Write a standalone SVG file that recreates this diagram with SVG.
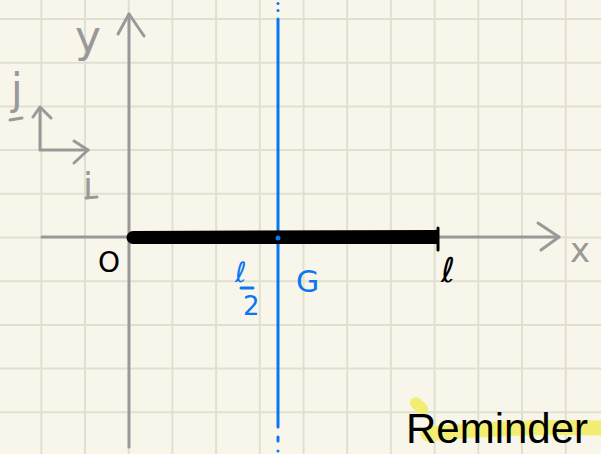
<svg xmlns="http://www.w3.org/2000/svg" width="601" height="454" viewBox="0 0 601 454">
<defs>
<style>
.grid{stroke:#e1dfd1;stroke-width:2;fill:none}
.axis{stroke:#999999;stroke-width:3;fill:none;stroke-linecap:round;stroke-linejoin:round}
.gtext{fill:#999999;font-family:"DejaVu Sans",sans-serif}
.btext{fill:#000000;font-family:"DejaVu Sans",sans-serif}
.bluet{fill:#0a77f2;font-family:"DejaVu Sans",sans-serif}
.blue{stroke:#0a77f2;stroke-width:3;fill:none;stroke-linecap:round}
</style>
</defs>
<rect width="601" height="454" fill="#f8f6ea"/>
<g id="grid" class="grid">
<path d="M41.3 0V454M85 0V454M128.7 0V454M172.4 0V454M216.1 0V454M259.8 0V454M303.5 0V454M347.2 0V454M390.9 0V454M434.6 0V454M478.3 0V454M522 0V454M565.7 0V454"/>
<path d="M0 19H601M0 62.7H601M0 106.4H601M0 150.1H601M0 193.8H601M0 237.5H601M0 281.2H601M0 324.9H601M0 368.6H601M0 412.3H601"/>
</g>
<g id="highlight">
<path d="M416 403 L422 409" stroke="#f3ee72" stroke-width="12" stroke-linecap="round" fill="none"/>
<path d="M428 434 Q500 426 601 428" stroke="#f3ee72" stroke-width="15" stroke-linecap="round" fill="none"/>
</g>
<g id="connectors">
<g id="y-axis" class="axis">
<path d="M129 447V14"/>
<path d="M118 34L129 14L144 36"/>
</g>
<g id="x-axis" class="axis">
<path d="M42 237H559"/>
<path d="M538 223L559 237L541 250"/>
</g>
<g id="basis" class="axis">
<path d="M40 109V150H88"/>
<path d="M33 117L40 107L51 118"/>
<path d="M74 141L88 150L74 163"/>
</g>
<g id="g-line">
<path class="blue" d="M278 19V427"/>
<circle cx="278" cy="3.5" r="1.5" fill="#0a77f2"/>
<circle cx="278" cy="10.5" r="1.5" fill="#0a77f2"/>
<path class="blue" d="M278 437V441"/>
<circle cx="278" cy="451" r="1.5" fill="#0a77f2"/>
</g>
</g>
<g id="rod">
<path d="M133 231 L437 230 L437 244 L133 244 A6.5 6.5 0 0 1 133 231Z" fill="#000"/>
<path d="M438 228V250" stroke="#000" stroke-width="3" stroke-linecap="round"/>
<circle cx="278" cy="238" r="2.5" fill="#0a77f2"/>
</g>
<g id="labels">
<text class="gtext" x="75" y="52" font-size="44">y</text>
<text class="gtext" x="570" y="262" font-size="34">x</text>
<text class="gtext" x="11" y="104" font-size="42">j</text>
<path d="M10 120L22 118" class="axis"/>
<text class="gtext" x="83" y="198" font-size="36">i</text>
<path d="M86 198L97 197" class="axis"/>
<text class="btext" x="98" y="272" font-size="28">O</text>
<text class="btext" x="441" y="282" font-size="34">ℓ</text>
<text class="bluet" x="235" y="282" font-size="28">ℓ</text>
<path d="M241 288H253" class="blue"/>
<text class="bluet" x="243" y="315" font-size="26">2</text>
<text class="bluet" x="296" y="292" font-size="30">G</text>
<text x="406" y="443" font-size="42" font-family="'Liberation Sans',sans-serif" fill="#000">Reminder</text>
</g>
</svg>
